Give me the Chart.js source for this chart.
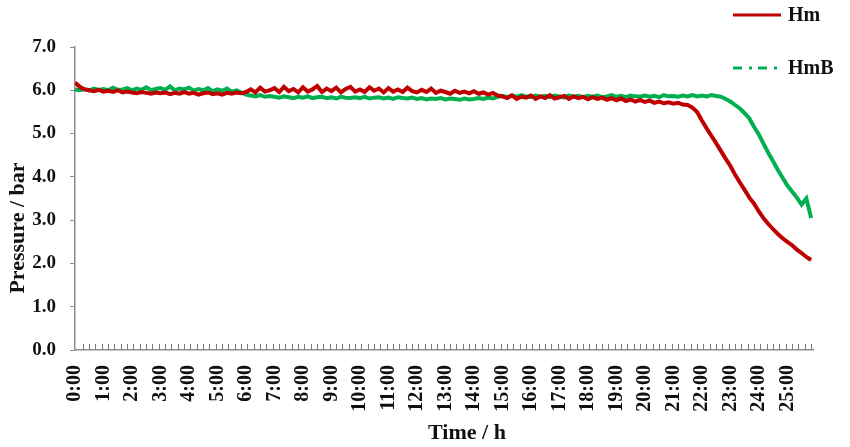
<!DOCTYPE html>
<html>
<head>
<meta charset="utf-8">
<script src="https://cdn.jsdelivr.net/npm/chart.js@4"></script>
<style>
  html, body { margin: 0; padding: 0; background: #fff; }
  #wrap { width: 850px; height: 447px; }
</style>
</head>
<body>
<div id="wrap"><canvas id="pressure"></canvas></div>
<script>
// sampled every 10 min, from 0:00 to 25:50
const sampleStepHours = 1 / 6

const hourLabels = ['0:00','1:00','2:00','3:00','4:00','5:00','6:00','7:00','8:00','9:00',
  '10:00','11:00','12:00','13:00','14:00','15:00','16:00','17:00','18:00','19:00',
  '20:00','21:00','22:00','23:00','24:00','25:00']

const hmValues = [
  6.18, 6.08, 6.02, 6.0, 5.98, 6.01,
  5.97, 5.99, 5.96, 6.0, 5.95, 5.97,
  5.95, 5.93, 5.96, 5.94, 5.92, 5.95,
  5.93, 5.95, 5.91, 5.94, 5.92, 5.96,
  5.92, 5.94, 5.9, 5.93, 5.95, 5.91,
  5.93, 5.9, 5.94, 5.92, 5.95, 5.93,
  5.96, 6.02, 5.95, 6.06, 5.97, 6.0,
  6.05, 5.96, 6.08, 5.98, 6.03, 5.95,
  6.07, 5.97, 6.02, 6.1, 5.96, 6.04,
  5.98, 6.06, 5.95, 6.03, 6.08, 5.97,
  6.02, 5.96, 6.07, 5.99, 6.04, 5.95,
  6.05, 5.97, 6.02, 5.96, 6.06, 5.98,
  5.95, 6.01, 5.96, 6.04, 5.94, 5.99,
  5.96, 5.92, 5.99, 5.94, 5.97, 5.93,
  5.98, 5.92, 5.95, 5.9, 5.94, 5.88,
  5.86, 5.82, 5.88, 5.8, 5.85, 5.83,
  5.88, 5.8, 5.86, 5.82, 5.89, 5.81,
  5.84, 5.87, 5.8, 5.86, 5.82, 5.85,
  5.79, 5.84, 5.8, 5.83, 5.78, 5.82,
  5.77, 5.81, 5.75, 5.79, 5.74, 5.78,
  5.73, 5.76, 5.71, 5.74, 5.7, 5.72,
  5.69, 5.71, 5.67, 5.66, 5.6, 5.5,
  5.3, 5.12, 4.95, 4.78, 4.6, 4.42,
  4.25, 4.05, 3.87, 3.7, 3.52, 3.38,
  3.2, 3.04, 2.91, 2.79, 2.68, 2.58,
  2.5, 2.42, 2.32, 2.24, 2.15, 2.08
]

const hmbValues = [
  6.02, 6.0, 6.03, 6.0, 6.04, 6.01,
  6.03, 6.0, 6.06, 6.01, 6.02, 6.05,
  6.0, 6.04, 6.01, 6.07, 6.0, 6.03,
  6.05, 6.01, 6.09, 6.0, 6.04, 6.02,
  6.06, 5.99, 6.03, 6.0, 6.05, 5.98,
  6.02, 5.99, 6.04, 5.97, 6.0, 5.95,
  5.9, 5.88, 5.86, 5.89, 5.85, 5.87,
  5.85, 5.83, 5.86, 5.84, 5.82, 5.85,
  5.83, 5.86, 5.82, 5.84, 5.85, 5.82,
  5.84, 5.81, 5.85, 5.83, 5.82, 5.84,
  5.82, 5.85, 5.81, 5.83, 5.84, 5.81,
  5.83, 5.8, 5.84, 5.82, 5.81, 5.83,
  5.8, 5.82, 5.79, 5.81, 5.8, 5.82,
  5.79, 5.81, 5.8, 5.78, 5.81, 5.79,
  5.8, 5.82, 5.8, 5.83, 5.81, 5.85,
  5.87, 5.84, 5.88, 5.85, 5.89, 5.86,
  5.84, 5.88, 5.85, 5.87, 5.84, 5.88,
  5.86, 5.83, 5.88, 5.85, 5.87, 5.84,
  5.87, 5.85, 5.88, 5.84, 5.86, 5.89,
  5.85, 5.87, 5.84, 5.88, 5.86, 5.85,
  5.88, 5.85, 5.87, 5.84, 5.89, 5.86,
  5.87, 5.85, 5.88, 5.86, 5.89, 5.86,
  5.88, 5.86, 5.89, 5.87, 5.85, 5.8,
  5.74, 5.66, 5.58, 5.47, 5.35, 5.15,
  4.98, 4.76, 4.55, 4.36, 4.16, 3.98,
  3.8, 3.66, 3.52, 3.36, 3.5, 3.05
]

const seriesNames = ['Hm', 'HmB']
const seriesColors = ['#c00000', '#00b050']

const serif = "'Liberation Serif', 'Times New Roman', serif"
const axisGrey = '#8c8c8c'

function toPoints(values){
    return values.map((v, i) => ({ x: i * sampleStepHours, y: v }))
}

// little upward ticks along the time axis, legend and the two axis titles
const decorPlugin = {
    id: 'decor',
    afterDraw(chart){
        const ctx = chart.ctx
        const xs = chart.scales.x
        const area = chart.chartArea
        ctx.save()
        ctx.strokeStyle = '#7a7a7a'
        ctx.lineWidth = 1
        for (let t = 0.27; t < xs.max; t += 2 / 9) {
            const px = Math.round(xs.getPixelForValue(t)) + 0.5
            ctx.beginPath()
            ctx.moveTo(px, area.bottom)
            ctx.lineTo(px, area.bottom - 6)
            ctx.stroke()
        }

        // legend
        const items = [
            { y: 15, dash: [] },
            { y: 68, dash: [9, 7, 3, 6] }
        ]
        chart.data.datasets.forEach((ds, i) => {
            const it = items[i]
            ctx.strokeStyle = ds.borderColor
            ctx.lineWidth = 3
            ctx.setLineDash(it.dash)
            ctx.beginPath()
            ctx.moveTo(733, it.y)
            ctx.lineTo(781, it.y)
            ctx.stroke()
            ctx.setLineDash([])
            ctx.fillStyle = '#111'
            ctx.font = 'bold 20px ' + serif
            ctx.textBaseline = 'middle'
            ctx.textAlign = 'left'
            ctx.fillText(ds.label, 788, it.y + 1)
        })

        // axis titles
        ctx.fillStyle = '#111'
        ctx.font = 'bold 22px ' + serif
        ctx.textAlign = 'center'
        ctx.textBaseline = 'middle'
        ctx.fillText('Time / h', 467, 433)
        ctx.translate(18, 228)
        ctx.rotate(-Math.PI / 2)
        ctx.fillText('Pressure / bar', 0, 0)
        ctx.restore()
    }
}

new Chart(document.getElementById('pressure'), {
    type: 'line',
    data: {
        datasets: [
            {
                label: seriesNames[0],
                data: toPoints(hmValues),
                borderColor: seriesColors[0],
                borderWidth: 4,
                pointRadius: 0,
                tension: 0
            },
            {
                label: seriesNames[1],
                data: toPoints(hmbValues),
                borderColor: seriesColors[1],
                borderWidth: 4,
                pointRadius: 0,
                tension: 0
            }
        ]
    },
    options: {
        responsive: true,
        maintainAspectRatio: false,
        animation: false,
        layout: { padding: { top: 47, right: 37, left: 0, bottom: 0 } },
        plugins: {
            legend: { display: false },
            tooltip: { enabled: false }
        },
        scales: {
            x: {
                type: 'linear',
                min: 0,
                max: 25.9,
                afterBuildTicks: (scale) => {
                    scale.ticks = hourLabels.map((_, i) => ({ value: i }))
                },
                afterFit: (scale) => { scale.height = 97 },
                grid: { display: false },
                border: { display: true, color: axisGrey, width: 1.5 },
                ticks: {
                    autoSkip: false,
                    maxRotation: 90,
                    minRotation: 90,
                    padding: 7,
                    color: '#111',
                    font: { family: serif, size: 20, weight: 'bold' },
                    callback: (v) => hourLabels[v]
                }
            },
            y: {
                min: 0,
                max: 7,
                afterFit: (scale) => { scale.width = 75 },
                grid: { drawOnChartArea: false, drawTicks: true, tickLength: 5, color: axisGrey },
                border: { display: true, color: axisGrey, width: 1.5 },
                ticks: {
                    stepSize: 1,
                    padding: 14,
                    color: '#111',
                    font: { family: serif, size: 19, weight: 'bold' },
                    callback: (v) => v.toFixed(1)
                }
            }
        }
    },
    plugins: [decorPlugin]
})
</script>
</body>
</html>
